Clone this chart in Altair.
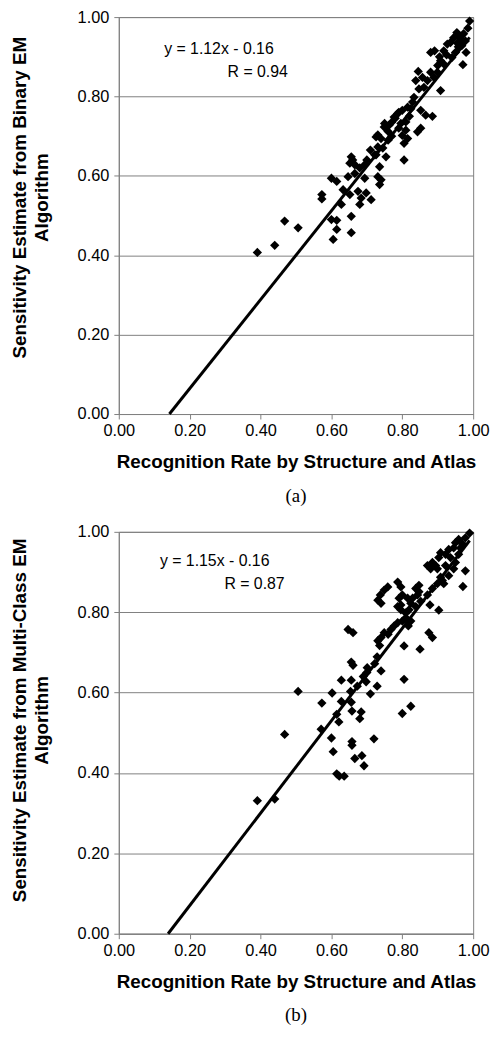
import altair as alt
import pandas as pd

# ---------------- data ----------------
# Panel (a): Binary EM
xa = [0.990, 0.973, 0.954, 0.966, 0.945, 0.936, 0.927, 0.978, 0.980, 0.891,
      0.880, 0.917, 0.908, 0.900, 0.940, 0.950, 0.971, 0.845, 0.838, 0.857,
      0.880, 0.871, 0.889, 0.899, 0.917, 0.908, 0.861, 0.847, 0.833, 0.829,
      0.815, 0.800, 0.787, 0.777, 0.824, 0.852, 0.866, 0.885, 0.750, 0.763,
      0.796, 0.810, 0.852, 0.960, 0.985, 0.968, 0.925, 0.958, 0.843, 0.805,
      0.815, 0.805, 0.731, 0.749, 0.770, 0.790, 0.731, 0.745, 0.726, 0.736,
      0.754, 0.656, 0.652, 0.666, 0.694, 0.722, 0.731, 0.736, 0.600, 0.615,
      0.647, 0.666, 0.694, 0.740, 0.633, 0.652, 0.675, 0.698, 0.684, 0.712,
      0.680, 0.628, 0.573, 0.573, 0.600, 0.615, 0.615, 0.656, 0.656, 0.605,
      0.468, 0.506, 0.440, 0.391, 0.810, 0.726, 0.740, 0.780, 0.790, 0.770,
      0.800, 0.820, 0.760, 0.660, 0.680, 0.700, 0.710, 0.760, 0.905, 0.955]
ya = [0.990, 0.958, 0.961, 0.944, 0.948, 0.936, 0.932, 0.940, 0.911, 0.915,
      0.911, 0.915, 0.890, 0.878, 0.898, 0.911, 0.880, 0.863, 0.840, 0.848,
      0.861, 0.840, 0.848, 0.861, 0.882, 0.815, 0.823, 0.819, 0.798, 0.786,
      0.773, 0.765, 0.757, 0.748, 0.769, 0.765, 0.753, 0.750, 0.732, 0.728,
      0.732, 0.736, 0.720, 0.952, 0.972, 0.928, 0.905, 0.925, 0.711, 0.682,
      0.694, 0.640, 0.703, 0.723, 0.735, 0.720, 0.673, 0.670, 0.653, 0.623,
      0.648, 0.648, 0.632, 0.628, 0.628, 0.653, 0.598, 0.578, 0.594, 0.586,
      0.598, 0.606, 0.594, 0.590, 0.565, 0.553, 0.561, 0.557, 0.544, 0.540,
      0.528, 0.528, 0.553, 0.542, 0.490, 0.488, 0.465, 0.498, 0.457, 0.440,
      0.486, 0.469, 0.425, 0.407, 0.715, 0.698, 0.694, 0.745, 0.760, 0.700,
      0.702, 0.750, 0.712, 0.640, 0.620, 0.640, 0.665, 0.690, 0.900, 0.935]

# Panel (b): Multi-Class EM
xb = [0.990, 0.978, 0.959, 0.950, 0.945, 0.931, 0.908, 0.922, 0.964, 0.970,
      0.959, 0.936, 0.903, 0.871, 0.885, 0.880, 0.894, 0.899, 0.922, 0.950,
      0.978, 0.971, 0.945, 0.931, 0.913, 0.899, 0.908, 0.885, 0.871, 0.917,
      0.847, 0.838, 0.847, 0.843, 0.829, 0.852, 0.838, 0.824, 0.819, 0.810,
      0.787, 0.796, 0.759, 0.749, 0.738, 0.731, 0.740, 0.800, 0.791, 0.815,
      0.796, 0.787, 0.796, 0.878, 0.903, 0.810, 0.800, 0.787, 0.777, 0.768,
      0.824, 0.817, 0.647, 0.661, 0.749, 0.740, 0.731, 0.736, 0.805, 0.850,
      0.875, 0.885, 0.656, 0.661, 0.701, 0.722, 0.729, 0.740, 0.628, 0.656,
      0.698, 0.729, 0.805, 0.506, 0.602, 0.654, 0.673, 0.710, 0.573, 0.628,
      0.656, 0.658, 0.684, 0.680, 0.615, 0.621, 0.800, 0.824, 0.571, 0.468,
      0.600, 0.658, 0.658, 0.720, 0.605, 0.666, 0.686, 0.692, 0.615, 0.622,
      0.636, 0.391, 0.440, 0.760, 0.700, 0.690]
yb = [0.997, 0.985, 0.981, 0.973, 0.960, 0.956, 0.948, 0.944, 0.960, 0.970,
      0.944, 0.936, 0.936, 0.916, 0.924, 0.908, 0.916, 0.908, 0.916, 0.924,
      0.903, 0.864, 0.908, 0.891, 0.879, 0.871, 0.887, 0.859, 0.843, 0.871,
      0.867, 0.859, 0.851, 0.843, 0.835, 0.827, 0.814, 0.822, 0.806, 0.798,
      0.875, 0.863, 0.863, 0.855, 0.843, 0.830, 0.822, 0.843, 0.835, 0.835,
      0.818, 0.814, 0.806, 0.818, 0.805, 0.786, 0.778, 0.774, 0.766, 0.757,
      0.778, 0.766, 0.757, 0.749, 0.749, 0.737, 0.729, 0.717, 0.716, 0.708,
      0.749, 0.737, 0.676, 0.668, 0.662, 0.672, 0.689, 0.654, 0.631, 0.631,
      0.627, 0.616, 0.633, 0.603, 0.599, 0.603, 0.616, 0.597, 0.574, 0.578,
      0.576, 0.554, 0.552, 0.535, 0.546, 0.527, 0.548, 0.566, 0.509, 0.496,
      0.487, 0.478, 0.469, 0.485, 0.453, 0.436, 0.443, 0.418, 0.398, 0.392,
      0.392, 0.331, 0.335, 0.745, 0.650, 0.640]

# trend lines (as printed on the chart)
slope_a, icpt_a = 1.12, -0.16
slope_b, icpt_b = 1.15, -0.16
x_last = 0.99

eq_text_a = ["y = 1.12x  -  0.16", "R  = 0.94"]
eq_text_b = ["y = 1.15x  -  0.16", "R  = 0.87"]
eq_pos_a = ([0.128, 0.307], [0.920, 0.862])
eq_pos_b = ([0.116, 0.298], [0.927, 0.870])

tick_vals = [0.0, 0.2, 0.4, 0.6, 0.8, 1.0]
x_title = "Recognition Rate by Structure and Atlas"
y_title_a = ["Sensitivity Estimate from Binary EM", "Algorithm"]
y_title_b = ["Sensitivity Estimate from Multi-Class EM", "Algorithm"]

SANS = "Liberation Sans"
SERIF = "Liberation Serif"
AX = "#808080"


def panel(xs, ys, slope, icpt, eq_text, eq_pos, ytitle, caption, h, title_y):
    pts = pd.DataFrame({"x": xs, "y": ys})
    x0 = -icpt / slope
    trend = pd.DataFrame({"x": [x0, x_last], "y": [0.0, slope * x_last + icpt]})
    ann = pd.DataFrame({"x": eq_pos[0], "y": eq_pos[1], "t": eq_text})

    xenc = alt.X("x:Q", scale=alt.Scale(domain=[0, 1], nice=False, zero=False),
                 axis=alt.Axis(values=tick_vals, format=".2f", title=x_title,
                               grid=False, labelFlush=False, labelPadding=4,
                               titlePadding=14))
    yenc = alt.Y("y:Q", scale=alt.Scale(domain=[0, 1], nice=False, zero=False),
                 axis=alt.Axis(values=tick_vals, format=".2f", title=ytitle,
                               grid=True, labelFlush=False, labelPadding=5,
                               titlePadding=26, titleY=title_y,
                               titleLineHeight=22))

    p = alt.Chart(pts).mark_point(shape="diamond", filled=True, color="black",
                                  size=88, opacity=1).encode(x=xenc, y=yenc)
    ln = alt.Chart(trend).mark_line(color="black", strokeWidth=3).encode(x=xenc, y=yenc)
    tx = alt.Chart(ann).mark_text(align="left", baseline="middle", font=SANS,
                                  fontSize=16, color="black").encode(
        x=xenc, y=yenc, text="t:N")
    return alt.layer(p, ln, tx).properties(
        width=358, height=h,
        title=alt.TitleParams(caption, orient="bottom", font=SERIF, fontSize=19,
                              fontWeight="normal", anchor="middle", frame="group",
                              offset=15, color="black"))


top = panel(xa, ya, slope_a, icpt_a, eq_text_a, eq_pos_a, y_title_a, "(a)", 401, 182)
bottom = panel(xb, yb, slope_b, icpt_b, eq_text_b, eq_pos_b, y_title_b, "(b)", 406, 190)

chart = alt.vconcat(top, bottom, spacing=17).properties(
    padding={"left": 10, "top": 3, "right": 0, "bottom": 0},
    background="white",
).configure_view(stroke=AX, strokeWidth=1).configure_axis(
    labelFont=SANS, labelFontSize=16.5, labelColor="black",
    titleFont=SANS, titleFontSize=19, titleFontWeight="bold", titleColor="black",
    tickColor=AX, tickSize=5, domainColor=AX, gridColor=AX, gridOpacity=1,
)

chart.save("out.html", embed_options={"renderer": "svg", "actions": False})
